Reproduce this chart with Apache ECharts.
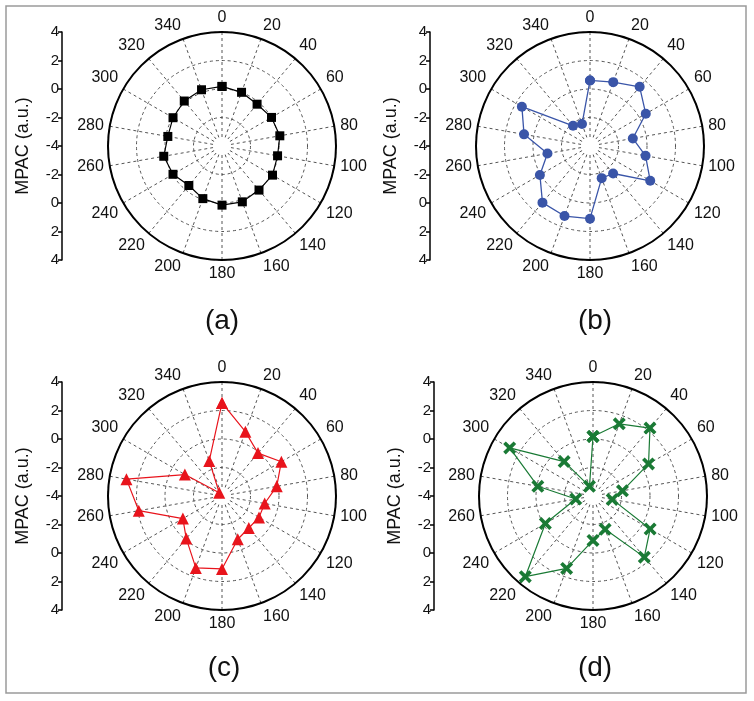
<!DOCTYPE html>
<html>
<head>
<meta charset="utf-8">
<script src="https://cdn.jsdelivr.net/npm/echarts@6/dist/echarts.min.js"></script>
<style>
html,body{margin:0;padding:0;background:#fff;}
#chart{width:754px;height:701px;}
</style>
</head>
<body>
<div id="chart"></div>
<script>
// Angles (degrees)
const angles = [0,20,40,60,80,100,120,140,160,180,200,220,240,260,280,300,320,340];
// Radial tick labels on the side axis (bottom to top)
const radialTickLabels = ['4','2','0','-2','-4','-2','0','2','4'];
const angleTickStep = 20;
const panelLabels = ['(a)','(b)','(c)','(d)'];
const axisTitle = 'MPAC (a.u.)';

// MPAC values per panel
const valuesA = [0.18,0.01,-0.17,0.01,0.12,-0.04,0.09,0.04,0.17,0.15,-0.07,-0.38,-0.03,0.15,-0.14,-0.03,0.12,0.2];
const valuesB = [0.6,0.77,1.42,0.52,-0.95,-0.04,0.88,-1.48,-1.6,1.1,1.23,1.19,0.06,-0.97,0.7,1.52,-2.15,-2.36];
const valuesC = [2.53,0.8,-0.07,0.81,-0.1,-0.96,-1.0,-1.07,-0.77,1.12,1.37,-0.1,-0.83,1.93,2.81,-0.99,-3.7,-1.38];
const valuesD = [0.18,1.39,2.22,0.5,-1.9,-2.63,0.63,1.6,-1.51,-0.88,1.41,3.39,-0.14,-2.77,-0.07,2.75,-0.85,-3.28];

const panels = [
  {vals: valuesA, cx: 222, cy: 146, axisX: 62, color: '#000000', symbol: 'rect', size: 9, lw: 1.2},
  {vals: valuesB, cx: 590, cy: 146, axisX: 430, color: '#3a55a8', symbol: 'circle', size: 10, lw: 1.3},
  {vals: valuesC, cx: 222, cy: 496, axisX: 62, color: '#e8141c', symbol: 'triangle', size: 12, lw: 1.2},
  {vals: valuesD, cx: 593, cy: 496, axisX: 434, color: '#1a7a35', symbol: 'path://M0,2L2,0L5,3L8,0L10,2L7,5L10,8L8,10L5,7L2,10L0,8L3,5Z', size: 13, lw: 1.2}
];
const labelPos = [[222,321],[595,321],[224,668],[595,668]];
const R = 114;
const font = 'Liberation Sans, Arial, sans-serif';

const polar = [], angleAxis = [], radiusAxis = [], series = [], grid = [], xAxis = [], yAxis = [], graphic = [];

panels.forEach((p, i) => {
  polar.push({center: [p.cx, p.cy], radius: R});
  angleAxis.push({
    polarIndex: i, type: 'value', min: 0, max: 360, interval: angleTickStep,
    startAngle: 90, clockwise: true,
    axisLine: {show: true, lineStyle: {color: '#000', width: 2}},
    axisTick: {show: false},
    axisLabel: {show: true, margin: 6, color: '#111', fontSize: 16, fontFamily: font,
      formatter: v => (v >= 360 ? '' : String(v))},
    splitLine: {show: true, lineStyle: {color: '#555', width: 1, type: [3, 3]}}
  });
  radiusAxis.push({
    polarIndex: i, type: 'value', min: -4, max: 4, interval: 2,
    axisLine: {show: false}, axisTick: {show: false}, axisLabel: {show: false},
    splitLine: {show: true, lineStyle: {color: '#555', width: 1, type: [3, 3]}}
  });
  const data = angles.map((a, k) => [p.vals[k], a]);
  data.push([p.vals[0], 360]);
  series.push({
    type: 'line', coordinateSystem: 'polar', polarIndex: i, data: data,
    symbol: p.symbol, symbolSize: p.size, z: 5,
    lineStyle: {color: p.color, width: p.lw},
    itemStyle: {color: p.color},
    animation: false
  });
  grid.push({left: p.axisX, top: p.cy - R, width: 1, height: 2 * R});
  xAxis.push({gridIndex: i, type: 'value', show: false});
  yAxis.push({
    gridIndex: i, type: 'value', min: 0, max: 8, interval: 1, position: 'left',
    name: axisTitle, nameLocation: 'middle', nameRotate: 90, nameGap: 30,
    nameTextStyle: {fontSize: 18, color: '#111', fontFamily: font},
    axisLine: {show: true, lineStyle: {color: '#000', width: 1.5}},
    axisTick: {show: true, inside: false, length: 4, lineStyle: {color: '#000', width: 1.5}},
    axisLabel: {show: true, margin: 3, fontSize: 15, color: '#111', fontFamily: font,
      formatter: v => radialTickLabels[Math.round(v)]},
    splitLine: {show: false}
  });
  graphic.push({type: 'circle', shape: {cx: p.cx, cy: p.cy, r: 9}, style: {fill: '#fff'}, z: 1, silent: true});
  graphic.push({type: 'text', x: labelPos[i][0], y: labelPos[i][1],
    style: {text: panelLabels[i], fontSize: 28, fill: '#111', fontFamily: font, align: 'center', verticalAlign: 'middle'}, z: 10});
});
graphic.push({type: 'rect', shape: {x: 6, y: 6, width: 740, height: 687},
  style: {fill: 'none', stroke: '#9a9a9a', lineWidth: 1.5}, z: 10, silent: true});

const chart = echarts.init(document.getElementById('chart'), null, {renderer: 'canvas'});
chart.setOption({
  animation: false,
  backgroundColor: '#fff',
  polar, angleAxis, radiusAxis, grid, xAxis, yAxis, series, graphic
});
</script>
</body>
</html>
